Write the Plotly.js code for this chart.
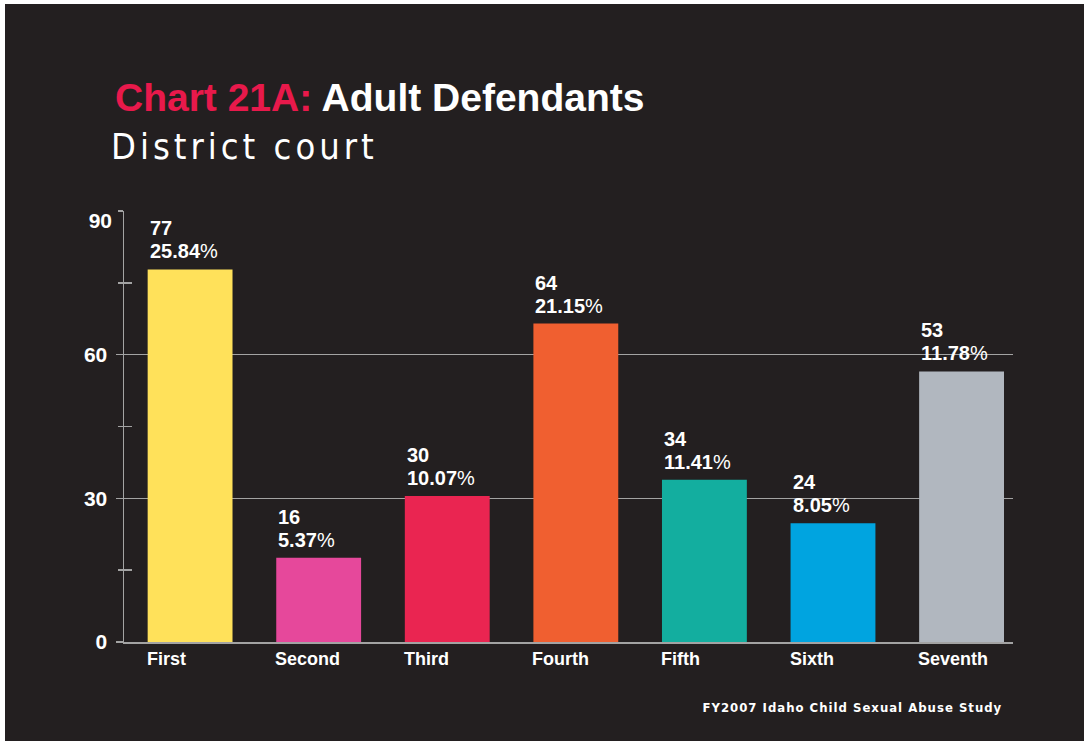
<!DOCTYPE html>
<html>
<head>
<meta charset="utf-8">
<script src="https://cdn.plot.ly/plotly-3.0.1.min.js"></script>
<style>
  html, body { margin: 0; padding: 0; background: #ffffff; }
  #chart { position: absolute; left: 5px; top: 4px; width: 1079px; height: 737px; }
  .annotation[data-index="0"] text { letter-spacing: 4px; }
  .annotation[data-index="1"] text { letter-spacing: 1px; }
</style>
</head>
<body>
<div id="chart"></div>
<script>
// ---- data ----
const districts   = ['First', 'Second', 'Third', 'Fourth', 'Fifth', 'Sixth', 'Seventh'];
const barHeights  = [77.8, 17.6, 30.5, 66.5, 33.9, 24.8, 56.5];   // drawn bar heights
const counts      = ['77', '16', '30', '64', '34', '24', '53'];     // printed counts
const percents    = ['25.84', '5.37', '10.07', '21.15', '11.41', '8.05', '11.78'];
const barColors   = ['#ffe15a', '#e6489b', '#ea2551', '#f05f30', '#13ae9f', '#00a4e0', '#b1b7bf'];
const majorTicks  = [0, 30, 60];
const topTick     = [90];
const minorTicks  = [15, 45, 75, 90];

const BG = '#231f20';
const AXIS = '#a3a3a3';
const BOLD = 'Liberation Sans, Arial, sans-serif';
const NARROW = 'Liberation Sans Narrow, DejaVu Sans Condensed, sans-serif';
const BARGAP = 0.34;
const HALF = (1 - BARGAP) / 2;

const traces = [
  {
    type: 'bar',
    x: districts,
    y: barHeights,
    marker: { color: barColors, line: { width: 0 } },
    hoverinfo: 'skip',
    showlegend: false
  },
  // empty helper traces so the overlaid tick axes are drawn
  { type: 'scatter', x: [], y: [], yaxis: 'y2', showlegend: false, hoverinfo: 'skip' },
  { type: 'scatter', x: [], y: [], yaxis: 'y3', showlegend: false, hoverinfo: 'skip' }
];

const annotations = [
  { text: 'District court', xref: 'paper', yref: 'paper', x: 0.1355, y: 1.149,
    xanchor: 'center', yanchor: 'middle', showarrow: false,
    font: { family: NARROW, size: 36, color: '#ffffff' } },
  { text: 'FY2007 Idaho Child Sexual Abuse Study', xref: 'paper', yref: 'paper',
    x: 0.820, y: -0.152, xanchor: 'center', yanchor: 'middle', showarrow: false,
    font: { family: NARROW, size: 13, color: '#ffffff', weight: 'bold' } }
];

districts.forEach((d, i) => {
  annotations.push({
    text: '<b>' + percents[i] + '</b>%',
    x: i - HALF, y: barHeights[i], xref: 'x', yref: 'y',
    xanchor: 'left', yanchor: 'bottom', align: 'left', showarrow: false, yshift: 5,
    font: { family: BOLD, size: 20, color: '#ffffff' }
  });
  annotations.push({
    text: '<b>' + counts[i] + '</b>',
    x: i - HALF, y: barHeights[i], xref: 'x', yref: 'y',
    xanchor: 'left', yanchor: 'bottom', align: 'left', showarrow: false, yshift: 28,
    font: { family: BOLD, size: 20, color: '#ffffff' }
  });
  annotations.push({
    text: '<b>' + d + '</b>',
    x: i - HALF, y: 0, xref: 'x', yref: 'y',
    xanchor: 'left', yanchor: 'top', align: 'left', showarrow: false, yshift: -5, xshift: -3,
    font: { family: BOLD, size: 18, color: '#ffffff' }
  });
});

const layout = {
  width: 1079, height: 737,
  paper_bgcolor: BG, plot_bgcolor: BG,
  margin: { l: 119, r: 71, t: 207, b: 99 },
  bargap: BARGAP,
  title: {
    text: '<span style="color:#e8194b">Chart 21A:</span> Adult Defendants',
    xref: 'container', yref: 'container', x: 110 / 1079, y: 1 - 93 / 737,
    xanchor: 'left', yanchor: 'middle',
    font: { family: BOLD, size: 39, color: '#ffffff', weight: 'bold' }
  },
  xaxis: {
    type: 'category', range: [-0.514, 6.40], fixedrange: true,
    showline: true, linecolor: AXIS, linewidth: 1.5,
    showticklabels: false, ticks: '', showgrid: false, zeroline: false
  },
  yaxis: {
    range: [0, 90], fixedrange: true,
    tickmode: 'array', tickvals: majorTicks, ticktext: majorTicks.map(String),
    ticks: 'outside', ticklen: 7, tickwidth: 1.5, tickcolor: AXIS,
    showline: true, linecolor: AXIS, linewidth: 1.5,
    showgrid: true, gridcolor: AXIS, gridwidth: 1.5, zeroline: false,
    ticklabelstandoff: 4,
    tickfont: { family: BOLD, size: 21, color: '#ffffff', weight: 'bold' }
  },
  yaxis2: {
    range: [0, 90], overlaying: 'y', anchor: 'x', side: 'left', fixedrange: true,
    tickmode: 'array', tickvals: minorTicks, ticktext: minorTicks.map(v => topTick.includes(v) ? String(v) : ''),
    ticks: 'inside', ticklen: 8, tickwidth: 1.5, tickcolor: AXIS,
    showline: false, showgrid: false, zeroline: false,
    ticklabelstandoff: 11, ticklabelshift: 10,
    tickfont: { family: BOLD, size: 21, color: '#ffffff', weight: 'bold' }
  },
  yaxis3: {
    range: [0, 90], overlaying: 'y', anchor: 'x', side: 'left', fixedrange: true,
    tickmode: 'array', tickvals: minorTicks, showticklabels: false,
    ticks: 'outside', ticklen: 5, tickwidth: 1.5, tickcolor: AXIS,
    showline: false, showgrid: false, zeroline: false
  },
  annotations: annotations
};

Plotly.newPlot('chart', traces, layout, { displayModeBar: false, staticPlot: true });
</script>
</body>
</html>
